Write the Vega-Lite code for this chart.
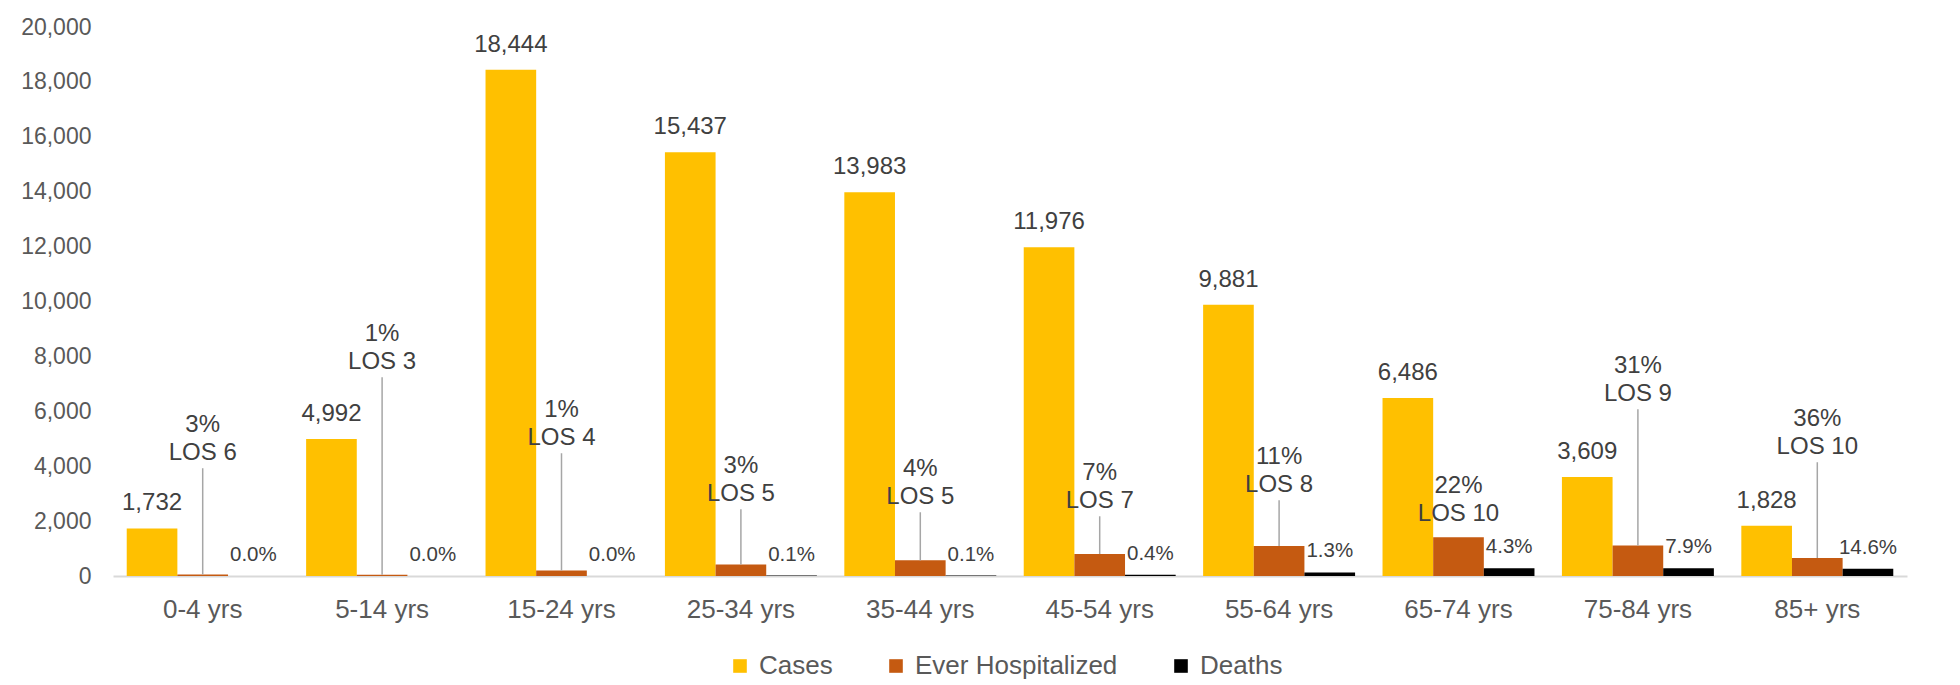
{
  "$schema": "https://vega.github.io/schema/vega-lite/v6.json",
  "width": 1794,
  "height": 549,
  "autosize": {"type": "none"},
  "padding": {"left": 113, "top": 27, "right": 53, "bottom": 109},
  "background": "white",
  "config": {
    "view": {"stroke": null},
    "font": "Liberation Sans",
    "axis": {"labelFont": "Liberation Sans", "titleFont": "Liberation Sans"},
    "legend": {"labelFont": "Liberation Sans"},
    "text": {"font": "Liberation Sans"}
  },
  "data": {
    "values": [
      {"age": "0-4 yrs", "Cases": 1732, "Ever Hospitalized": 52, "Deaths": 0, "hospLabel": "3%\nLOS 6", "deathsLabel": "0.0%", "labelAt": 3926, "lineTop": 3926},
      {"age": "5-14 yrs", "Cases": 4992, "Ever Hospitalized": 50, "Deaths": 1, "hospLabel": "1%\nLOS 3", "deathsLabel": "0.0%", "labelAt": 7243, "lineTop": 7243},
      {"age": "15-24 yrs", "Cases": 18444, "Ever Hospitalized": 200, "Deaths": 4, "hospLabel": "1%\nLOS 4", "deathsLabel": "0.0%", "labelAt": 4472, "lineTop": 4472},
      {"age": "25-34 yrs", "Cases": 15437, "Ever Hospitalized": 420, "Deaths": 15, "hospLabel": "3%\nLOS 5", "deathsLabel": "0.1%", "labelAt": 2431, "lineTop": 2431},
      {"age": "35-44 yrs", "Cases": 13983, "Ever Hospitalized": 570, "Deaths": 14, "hospLabel": "4%\nLOS 5", "deathsLabel": "0.1%", "labelAt": 2322, "lineTop": 2322},
      {"age": "45-54 yrs", "Cases": 11976, "Ever Hospitalized": 800, "Deaths": 48, "hospLabel": "7%\nLOS 7", "deathsLabel": "0.4%", "labelAt": 2176, "lineTop": 2176},
      {"age": "55-64 yrs", "Cases": 9881, "Ever Hospitalized": 1090, "Deaths": 128, "hospLabel": "11%\nLOS 8", "deathsLabel": "1.3%", "labelAt": 2759, "lineTop": 2759},
      {"age": "65-74 yrs", "Cases": 6486, "Ever Hospitalized": 1410, "Deaths": 279, "hospLabel": "22%\nLOS 10", "deathsLabel": "4.3%", "labelAt": 1702, "lineTop": null},
      {"age": "75-84 yrs", "Cases": 3609, "Ever Hospitalized": 1110, "Deaths": 285, "hospLabel": "31%\nLOS 9", "deathsLabel": "7.9%", "labelAt": 6076, "lineTop": 6076},
      {"age": "85+ yrs", "Cases": 1828, "Ever Hospitalized": 655, "Deaths": 267, "hospLabel": "36%\nLOS 10", "deathsLabel": "14.6%", "labelAt": 4144, "lineTop": 4144}
    ]
  },
  "encoding": {
    "x": {
      "field": "age",
      "type": "nominal",
      "sort": null,
      "scale": {"paddingInner": 0.153, "paddingOuter": 0.0765},
      "axis": {
        "title": null,
        "labelAngle": 0,
        "labelFontSize": 26,
        "labelColor": "#595959",
        "labelPadding": 20,
        "ticks": false,
        "domainColor": "#D9D9D9",
        "domainWidth": 2
      }
    }
  },
  "layer": [
    {
      "transform": [{"fold": ["Cases", "Ever Hospitalized", "Deaths"], "as": ["series", "value"]}],
      "mark": {"type": "bar"},
      "encoding": {
        "xOffset": {"field": "series", "type": "nominal", "sort": ["Cases", "Ever Hospitalized", "Deaths"], "scale": {"paddingInner": 0, "paddingOuter": 0}},
        "y": {
          "field": "value",
          "type": "quantitative",
          "scale": {"domain": [0, 20000], "nice": false},
          "axis": {
            "title": null,
            "values": [0, 2000, 4000, 6000, 8000, 10000, 12000, 14000, 16000, 18000, 20000],
            "format": ",.0f",
            "domain": false,
            "ticks": false,
            "grid": false,
            "labelPadding": 22,
            "labelFontSize": 23,
            "labelColor": "#595959"
          }
        },
        "color": {
          "field": "series",
          "type": "nominal",
          "sort": ["Cases", "Ever Hospitalized", "Deaths"],
          "scale": {"domain": ["Cases", "Ever Hospitalized", "Deaths"], "range": ["#FFC000", "#C55A11", "#000000"]},
          "legend": {
            "title": null,
            "orient": "none",
            "direction": "horizontal",
            "legendX": 614,
            "legendY": 626,
            "symbolType": "square",
            "symbolSize": 185,
            "symbolStrokeWidth": 0,
            "symbolOpacity": 1,
            "labelFontSize": 26,
            "labelColor": "#595959",
            "labelOffset": 6,
            "labelLimit": 400,
            "columnPadding": 50,
            "padding": 0
          }
        }
      }
    },
    {
      "transform": [{"fold": ["Cases", "Ever Hospitalized", "Deaths"], "as": ["series", "value"]}, {"filter": "datum.series === 'Cases'"}],
      "mark": {"type": "text", "baseline": "middle", "dy": -25, "fontSize": 24, "color": "#404040"},
      "encoding": {
        "xOffset": {"field": "series", "type": "nominal", "sort": ["Cases", "Ever Hospitalized", "Deaths"], "scale": {"domain": ["Cases", "Ever Hospitalized", "Deaths"], "paddingInner": 0, "paddingOuter": 0}},
        "y": {"field": "value", "type": "quantitative"},
        "text": {"field": "value", "type": "quantitative", "format": ",.0f"}
      }
    },
    {
      "transform": [{"fold": ["Cases", "Ever Hospitalized", "Deaths"], "as": ["series", "value"]}, {"filter": "datum.series === 'Deaths'"}],
      "mark": {"type": "text", "baseline": "middle", "dy": -21, "fontSize": 20.5, "color": "#404040"},
      "encoding": {
        "xOffset": {"field": "series", "type": "nominal", "sort": ["Cases", "Ever Hospitalized", "Deaths"], "scale": {"domain": ["Cases", "Ever Hospitalized", "Deaths"], "paddingInner": 0, "paddingOuter": 0}},
        "y": {"field": "value", "type": "quantitative"},
        "text": {"field": "deathsLabel", "type": "nominal"}
      }
    },
    {
      "mark": {"type": "rule", "color": "#A6A6A6", "strokeWidth": 1.5},
      "encoding": {
        "y": {"field": "lineTop", "type": "quantitative"},
        "y2": {"field": "Ever Hospitalized"}
      }
    },
    {
      "mark": {"type": "text", "baseline": "bottom", "dy": -31.5, "fontSize": 24, "color": "#404040", "lineBreak": "\n", "lineHeight": 28},
      "encoding": {
        "y": {"field": "labelAt", "type": "quantitative"},
        "text": {"field": "hospLabel", "type": "nominal"}
      }
    }
  ]
}
